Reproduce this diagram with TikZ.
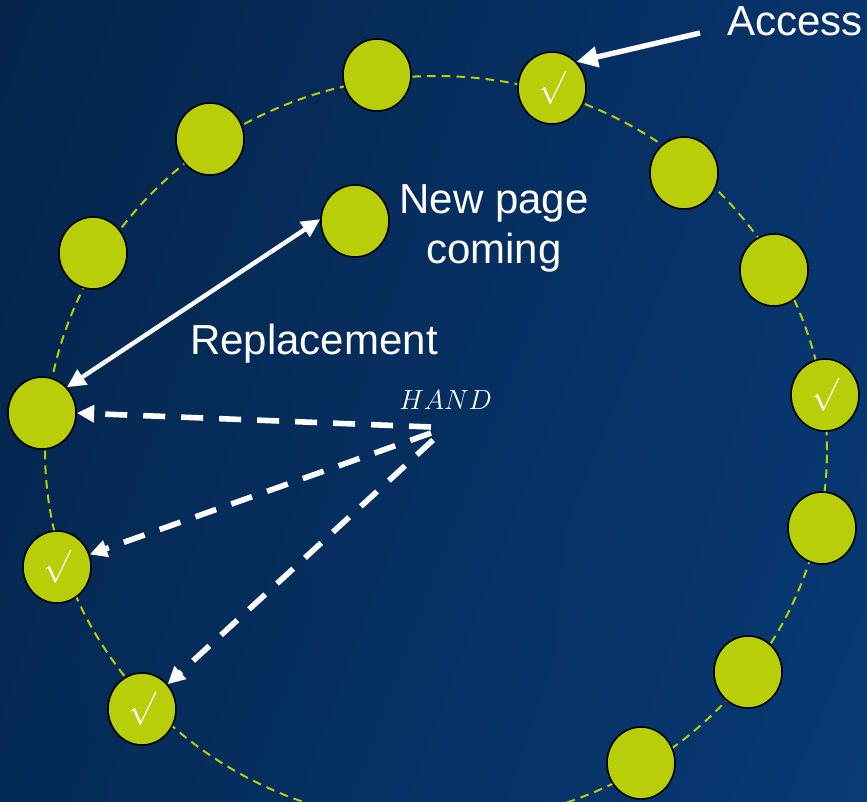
\documentclass[tikz,border=0pt]{standalone}
\usepackage{fontspec}
\setmainfont{Liberation Sans}
\usetikzlibrary{arrows.meta,shapes.geometric,shadings}

\definecolor{bgUL}{RGB}{5,37,75}
\definecolor{bgUR}{RGB}{7,52,108}
\definecolor{bgLL}{RGB}{4,42,86}
\definecolor{bgLR}{RGB}{8,58,116}
\definecolor{pagefill}{RGB}{184,206,8}

\newcommand\ticksym{{\fontsize{26}{26}\selectfont$\surd$}}

\begin{document}
\begin{tikzpicture}[x=0.75pt,y=-0.75pt,
  page/.style={ellipse,draw=black,line width=1.2pt,fill=pagefill,
    minimum width=51pt,minimum height=54pt,inner sep=0pt,text=white},
  ring/.style={draw=pagefill,line width=1.5pt,dash pattern=on 6.5pt off 4.5pt},
  caption/.style={text=white,inner sep=0pt,font=\fontsize{31.5}{37.5}\selectfont},
  pointer/.style={draw=white,line width=4pt,-{Triangle[length=16pt,width=15pt]}},
  swap/.style={draw=white,line width=3.3pt,
    {Triangle[length=14pt,width=13pt]}-{Triangle[length=14pt,width=13pt]}},
  sweep/.style={draw=white,line width=4.2pt,dash pattern=on 16.5pt off 12pt,
    -{Triangle[length=13pt,width=12.5pt]}}
]
% backdrop
\shade[upper left=bgUL,upper right=bgUR,lower left=bgLL,lower right=bgLR]
  (0,0) rectangle (867,801);
\useasboundingbox (0,0) rectangle (867,801);
\clip (0,0) rectangle (867,801);

% clock ring
\draw[ring] (436,450) ellipse [x radius=293.25pt, y radius=280.5pt];

% pages on the ring
\node[page] (c1)  at (377,75)  {};
\node[page] (c2)  at (210,139) {};
\node[page] (c3)  at (93,253)  {};
\node[page] (c4)  at (42,413)  {};
\node[page] (c5)  at (57,567)  {\ticksym};
\node[page] (c6)  at (142,709) {\ticksym};
\node[page] (c7)  at (641,763) {};
\node[page] (c8)  at (748,672) {};
\node[page] (c9)  at (822,528) {};
\node[page] (c10) at (825,395) {\ticksym};
\node[page] (c11) at (774,270) {};
\node[page] (c12) at (684,173) {};
\node[page] (c13) at (552,88)  {\ticksym};
% incoming page
\node[page] (c14) at (355,221) {};

% labels
\node[caption,anchor=base west] (access) at (727,35) {Access};
\node[caption,align=center] (newpage) at (494,228) {New page\\coming};
\node[caption,anchor=base west] (repl) at (190,354) {Replacement};
\node[text=white,inner sep=0pt,anchor=base west,font=\fontsize{21}{21}\selectfont]
  (hand) at (399,409) {$HAND$};

% arrows
\coordinate (accTail) at (700,33);
\draw[pointer] (accTail) -- (c13.47);
\draw[swap] (c4.46) -- (c14.177);

\coordinate (h1) at (431,427);
\coordinate (h2) at (431,433);
\coordinate (h3) at (433,440);
\draw[sweep] (h1) -- (c4.east);
\draw[sweep] (h2) -- (c5.21);
\draw[sweep] (h3) -- (c6.44);
\end{tikzpicture}
\end{document}
